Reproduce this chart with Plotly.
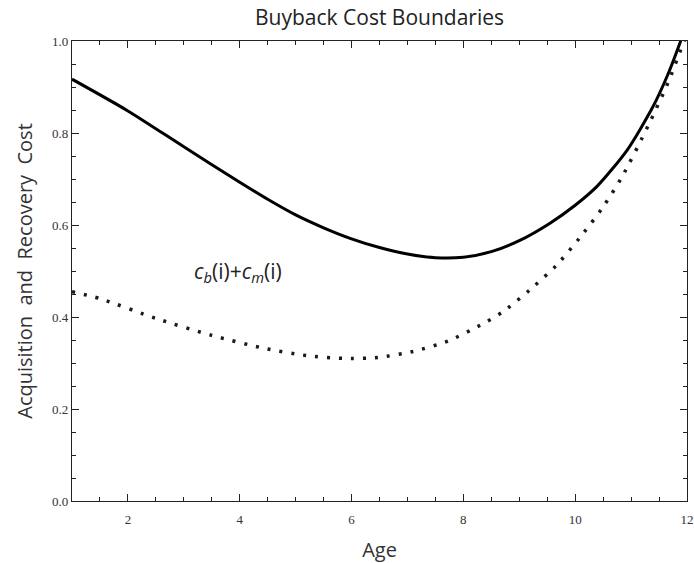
import plotly.graph_objects as go

# Upper boundary (solid)
solid_x = [1.0, 2.0, 3.0, 4.0, 4.5, 5.0, 5.5, 6.0, 6.5, 7.0, 7.5, 8.0, 8.5, 9.0, 9.55, 10.0, 10.39, 10.93, 11.39, 11.65, 11.88, 12.0]
solid_y = [0.917, 0.848, 0.770, 0.693, 0.656, 0.622, 0.594, 0.570, 0.551, 0.537, 0.529, 0.530, 0.542, 0.566, 0.604, 0.643, 0.684, 0.763, 0.857, 0.925, 0.998, 1.04]

# Lower boundary c_b(i)+c_m(i) (dotted)
dot_x = [1.0, 1.5, 2.5, 3.5, 4.4, 5.2, 5.85, 6.47, 7.1, 7.73, 8.3, 8.69, 9.19, 9.67, 10.08, 10.48, 10.83, 11.31, 11.67, 11.91, 12.0]
dot_y = [0.455, 0.440, 0.397, 0.360, 0.333, 0.316, 0.310, 0.312, 0.325, 0.348, 0.382, 0.410, 0.459, 0.513, 0.572, 0.636, 0.703, 0.817, 0.912, 0.988, 1.015]

x_tickvals = [2, 4, 6, 8, 10, 12]
y_tickvals = [0.0, 0.2, 0.4, 0.6, 0.8, 1.0]
y_ticktext = ["0.0", "0.2", "0.4", "0.6", "0.8", "1.0"]

fig = go.Figure()
fig.add_trace(go.Scatter(x=solid_x, y=solid_y, mode="lines",
                         line=dict(color="black", width=3, shape="spline", smoothing=0.7),
                         showlegend=False, hoverinfo="skip"))
fig.add_trace(go.Scatter(x=dot_x, y=dot_y, mode="lines",
                         line=dict(color="#1a1a1a", width=3.5, shape="spline", smoothing=0.7, dash="3px,9px"),
                         showlegend=False, hoverinfo="skip"))

fig.add_annotation(x=3.97, y=0.498, xref="x", yref="y",
                   text="<i>c</i><sub><i>b</i></sub>(i)+<i>c</i><sub><i>m</i></sub>(i)",
                   showarrow=False, font=dict(family="Open Sans", size=21, color="#222"))

axis_common = dict(showgrid=False, zeroline=False, showline=True, linecolor="#222",
                   linewidth=1.3, mirror="allticks", ticks="inside", ticklen=7, tickwidth=1.3,
                   tickcolor="#222", automargin=False,
                   tickfont=dict(family="Liberation Serif", size=13, color="#333"))

fig.update_xaxes(range=[1, 12], tickvals=x_tickvals, ticklabelstandoff=6,
                 minor=dict(dtick=0.5, tick0=0, ticks="inside", ticklen=4, tickwidth=1.2, tickcolor="#222"),
                 title=dict(text="Age", font=dict(family="Open Sans", size=20, color="#333"), standoff=18),
                 **axis_common)
fig.update_yaxes(range=[0, 1], tickvals=y_tickvals, ticktext=y_ticktext,
                 minor=dict(dtick=0.05, tick0=0, ticks="inside", ticklen=4, tickwidth=1.2, tickcolor="#222"),
                 title=dict(text="Acquisition&nbsp; and&nbsp; Recovery&nbsp; Cost",
                            font=dict(family="Open Sans", size=20, color="#333"), standoff=14),
                 **axis_common)

fig.update_layout(
    width=694, height=563,
    margin=dict(l=72, r=7, t=41, b=62, autoexpand=False),
    paper_bgcolor="white", plot_bgcolor="white",
    title=dict(text="Buyback Cost Boundaries", x=0.5, xanchor="center",
               xref="paper", y=1 - 18 / 563, yref="container", yanchor="middle",
               font=dict(family="Open Sans", size=21, color="#222")),
)

# Remove the default page margin so the figure fills the 694x563 window exactly.
fig.write_html("out.html",
               config={"displayModeBar": False},
               post_script="document.body.style.margin='0';document.body.style.overflow='hidden';")
